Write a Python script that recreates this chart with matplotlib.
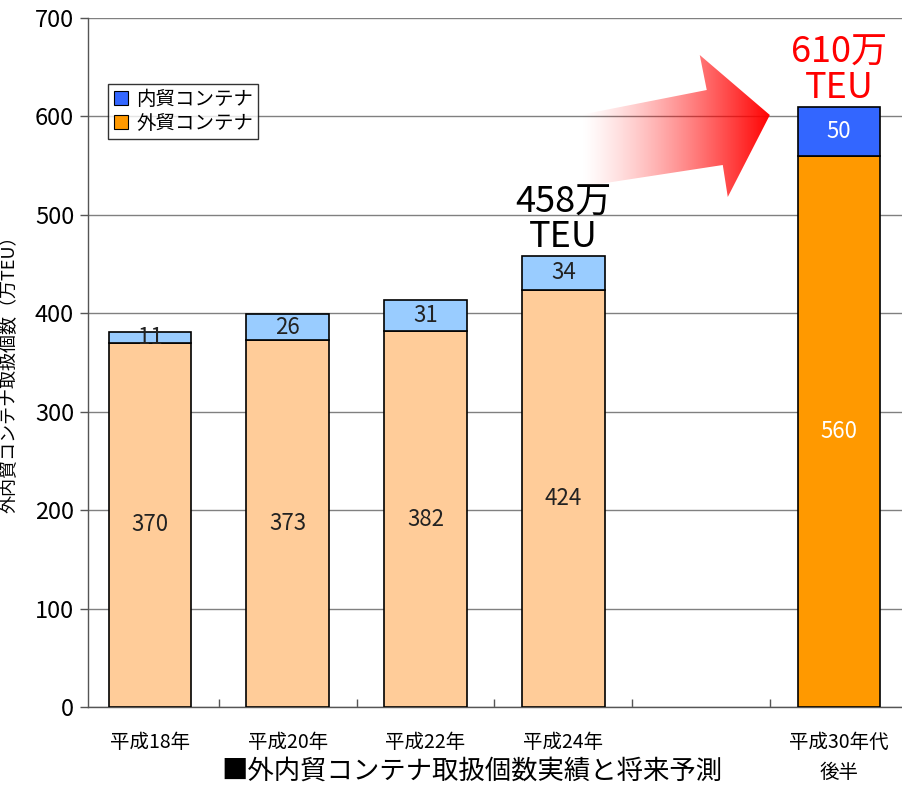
import matplotlib
matplotlib.use("Agg")
import matplotlib.pyplot as plt
import numpy as np
from matplotlib.patches import Polygon
from matplotlib.lines import Line2D

plt.rcParams['font.family'] = ['Noto Sans CJK JP', 'DejaVu Sans']

categories = ['平成18年', '平成20年', '平成22年', '平成24年', '', '平成30年代\n後半']
foreign = [370, 373, 382, 424, None, 560]
domestic = [11, 26, 31, 34, None, 50]
totals_text = {3: '458万\nTEU', 5: '610万\nTEU'}
yticks = [0, 100, 200, 300, 400, 500, 600, 700]

c_foreign_light = '#FFCC99'
c_dom_light = '#99CCFF'
c_foreign = '#FF9900'
c_dom = '#3366FF'

W, H = 903, 785
fig = plt.figure(figsize=(W / 100, H / 100), dpi=100)
ax = fig.add_axes([88 / W, (H - 707) / H, (W - 88) / W, (707 - 18) / H])

x = np.arange(len(categories))
bw = 0.6
for i in range(len(categories)):
    if foreign[i] is None:
        continue
    last = (i == len(categories) - 1)
    fc = c_foreign if last else c_foreign_light
    dc = c_dom if last else c_dom_light
    ax.bar(x[i], foreign[i], bw, color=fc, edgecolor='black', linewidth=1.2, zorder=3)
    ax.bar(x[i], domestic[i], bw, bottom=foreign[i], color=dc, edgecolor='black', linewidth=1.2, zorder=3)
    tc = 'white' if last else '#222222'
    ax.text(x[i], foreign[i] * 0.5, str(foreign[i]),
            ha='center', va='center', fontsize=16, color=tc, zorder=5)
    ax.text(x[i], foreign[i] + domestic[i] / 2, str(domestic[i]),
            ha='center', va='center', fontsize=16, color=tc, zorder=5)

for i, s in totals_text.items():
    top = foreign[i] + domestic[i]
    col = 'red' if i == 5 else 'black'
    ax.text(x[i], top + 1, s, ha='center', va='bottom', fontsize=26, color=col,
            linespacing=0.95, zorder=6)

ax.set_xlim(-0.45, 5.465)
ax.set_ylim(0, 700)
ax.set_yticks(yticks)
ax.set_yticklabels([str(v) for v in yticks], fontsize=17)
ax.yaxis.grid(True, color='#808080', linewidth=1.0, zorder=0)
ax.set_axisbelow(True)
ax.tick_params(axis='y', direction='out', length=6, width=1, color='#555555', pad=4)
ax.set_xticks(x[[0, 1, 2, 3, 5]])
ax.set_xticklabels([categories[i] for i in [0, 1, 2, 3, 5]], fontsize=14, va='top',
                   linespacing=1.55)
ax.tick_params(axis='x', length=0, pad=18)
ax.set_xticks(np.arange(len(categories) - 1) + 0.5, minor=True)
ax.tick_params(axis='x', which='minor', direction='in', length=6, width=1, color='#555555')
for sp in ['top', 'right']:
    ax.spines[sp].set_visible(False)
for sp in ['left', 'bottom']:
    ax.spines[sp].set_color('#555555')
    ax.spines[sp].set_linewidth(1.0)

# gradient arrow (decoration)
def px(xp, yp):
    return ((xp - 151) / 137.6, (707 - yp) * 700 / 689)
pts = [px(580, 115), px(707, 90), px(700, 55), px(770, 115), px(728, 197), px(723, 165), px(580, 187)]
poly = Polygon(pts, closed=True, facecolor='none', edgecolor='none', transform=ax.transData)
ax.add_patch(poly)
grad = np.linspace(0, 1, 256)
rgba = np.zeros((1, 256, 4))
rgba[..., 0] = 1.0
rgba[..., 3] = grad ** 1.3
xs = [p[0] for p in pts]
ys = [p[1] for p in pts]
im = ax.imshow(rgba, extent=[min(xs), max(xs), min(ys), max(ys)], aspect='auto',
               interpolation='bilinear', zorder=4)
im.set_clip_path(poly)
ax.set_xlim(-0.45, 5.465)
ax.set_ylim(0, 700)

# legend
handles = [Line2D([], [], marker='s', linestyle='none', markerfacecolor=c_dom,
                  markeredgecolor='black', markersize=10, markeredgewidth=0.8),
           Line2D([], [], marker='s', linestyle='none', markerfacecolor=c_foreign,
                  markeredgecolor='black', markersize=10, markeredgewidth=0.8)]
leg = ax.legend(handles, ['内貿コンテナ', '外貿コンテナ'], loc='upper left',
                bbox_to_anchor=((108 - 88) / (W - 88), (707 - 84) / 689),
                fontsize=14, frameon=True, fancybox=False, edgecolor='black',
                handlelength=0.8, handletextpad=0.4, borderpad=0.25, labelspacing=0.15,
                borderaxespad=0)
leg.get_frame().set_linewidth(1.0)
leg.set_zorder(7)

fig.text(10 / W, (H - 370) / H, '外内貿コンテナ取扱個数（万TEU）', rotation=90,
         ha='center', va='center', fontsize=13)
fig.text(472 / W, (H - 771) / H, '■外内貿コンテナ取扱個数実績と将来予測',
         ha='center', va='center', fontsize=19)

fig.savefig('out.png', dpi=100)
